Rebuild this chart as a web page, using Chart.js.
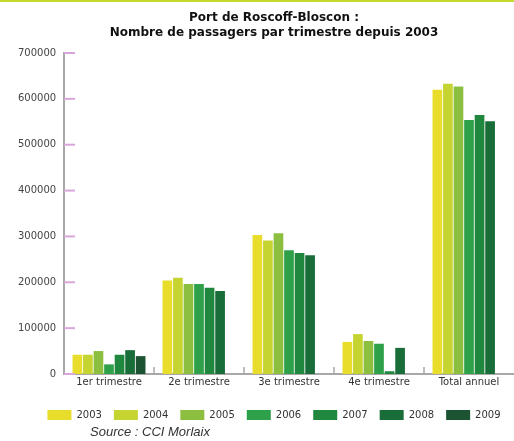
<!DOCTYPE html>
<html>
<head>
<meta charset="utf-8">
<script src="https://cdn.jsdelivr.net/npm/chart.js@4.4.1/dist/chart.umd.min.js"></script>
<style>
  body { margin:0; background:#fff; }
  #wrap { position:relative; width:514px; height:441px; }
  #topline { position:absolute; left:0; top:0; width:514px; height:2px; background:#c5d92d; }
  #source { position:absolute; left:90px; top:424px; font:italic 13px "Liberation Sans", Arial, sans-serif; color:#333; }
</style>
</head>
<body>
<div id="wrap">
  <canvas id="myChart" width="514" height="441"></canvas>
  <div id="topline"></div>
  <div id="source">Source : CCI Morlaix</div>
</div>
<script>
// global variables
var CATEGORIES = ['1er trimestre', '2e trimestre', '3e trimestre', '4e trimestre', 'Total annuel'];
var YEARS = ['2003', '2004', '2005', '2006', '2007', '2008', '2009'];
var COLORS = ['#e8dd2a', '#c6d431', '#8cbf3f', '#2ea04a', '#20873f', '#196d39', '#1c5333'];

var D2003 = [42000, 204000, 303000, 70000, 620000];
var D2004 = [42000, 210000, 291000, 87000, 633000];
var D2005 = [50000, 196000, 307000, 72000, 627000];
var D2006 = [21000, 196000, 270000, 66000, 554000];
var D2007 = [42000, 188000, 264000, 6000, 565000];
var D2008 = [52000, 181000, 259000, 57000, 551000];
var D2009 = [39000, null, null, null, null];

var Y_MAX = 700000;
var Y_STEP = 100000;

var SERIES = [D2003, D2004, D2005, D2006, D2007, D2008, D2009];

var datasets = [];
for (var i in SERIES) {
    datasets.push({
        label: YEARS[i],
        data: SERIES[i],
        backgroundColor: COLORS[i],
        borderWidth: 0,
        barPercentage: 0.92,
        categoryPercentage: 0.82
    });
}

// ==========================================================
//         small tick marks drawn inside the axes
// ==========================================================
var tickMarks = {
    id: 'tickMarks',
    afterDatasetsDraw: function(chart) {
        var ctx = chart.ctx;
        var x = chart.scales.x;
        var y = chart.scales.y;
        ctx.save();
        ctx.strokeStyle = '#d9a6d9';
        ctx.lineWidth = 2;
        y.ticks.forEach(function(t) {
            var py = y.getPixelForValue(t.value);
            ctx.beginPath();
            ctx.moveTo(y.right, py);
            ctx.lineTo(y.right + 11, py);
            ctx.stroke();
        });
        ctx.strokeStyle = '#a8a8a8';
        ctx.lineWidth = 1.5;
        for (var k = 0; k < CATEGORIES.length - 1; k++) {
            var px = (x.getPixelForValue(k) + x.getPixelForValue(k + 1)) / 2;
            ctx.beginPath();
            ctx.moveTo(px, x.top);
            ctx.lineTo(px, x.top - 7);
            ctx.stroke();
        }
        ctx.restore();
    }
};

var ctx = document.getElementById('myChart').getContext('2d');
var chart = new Chart(ctx, {
    type: 'bar',
    data: {
        labels: CATEGORIES,
        datasets: datasets
    },
    plugins: [tickMarks],
    options: {
        responsive: false,
        animation: false,
        layout: { padding: { left: 34, right: 0, top: 0, bottom: 11 } },
        plugins: {
            title: {
                display: true,
                text: ['Port de Roscoff-Bloscon :', 'Nombre de passagers par trimestre depuis 2003'],
                color: '#111',
                font: { family: 'DejaVu Sans', size: 12, weight: 'bold', lineHeight: 1.25 },
                padding: { top: 10, bottom: 13 }
            },
            legend: {
                position: 'bottom',
                labels: {
                    boxWidth: 24,
                    boxHeight: 10,
                    padding: 12,
                    color: '#333',
                    font: { family: 'DejaVu Sans', size: 10 }
                }
            },
            tooltip: { enabled: false }
        },
        scales: {
            x: {
                afterFit: function(s) { s.height = 24; },
                grid: { display: false, drawTicks: false },
                border: { color: '#a8a8a8', width: 2 },
                ticks: {
                    color: '#333',
                    padding: 2,
                    font: { family: 'DejaVu Sans', size: 10 },
                    maxRotation: 0
                }
            },
            y: {
                min: 0,
                max: Y_MAX,
                afterFit: function(s) { s.width = 30; },
                grid: { display: false, drawTicks: false },
                border: { color: '#a8a8a8', width: 2 },
                ticks: {
                    stepSize: Y_STEP,
                    // mirrored labels pushed back to the left of the axis
                    mirror: true,
                    crossAlign: 'far',
                    padding: -46,
                    color: '#444',
                    font: { family: 'DejaVu Sans', size: 10 },
                    callback: function(v) { return String(v); }
                }
            }
        }
    }
});
</script>
</body>
</html>
